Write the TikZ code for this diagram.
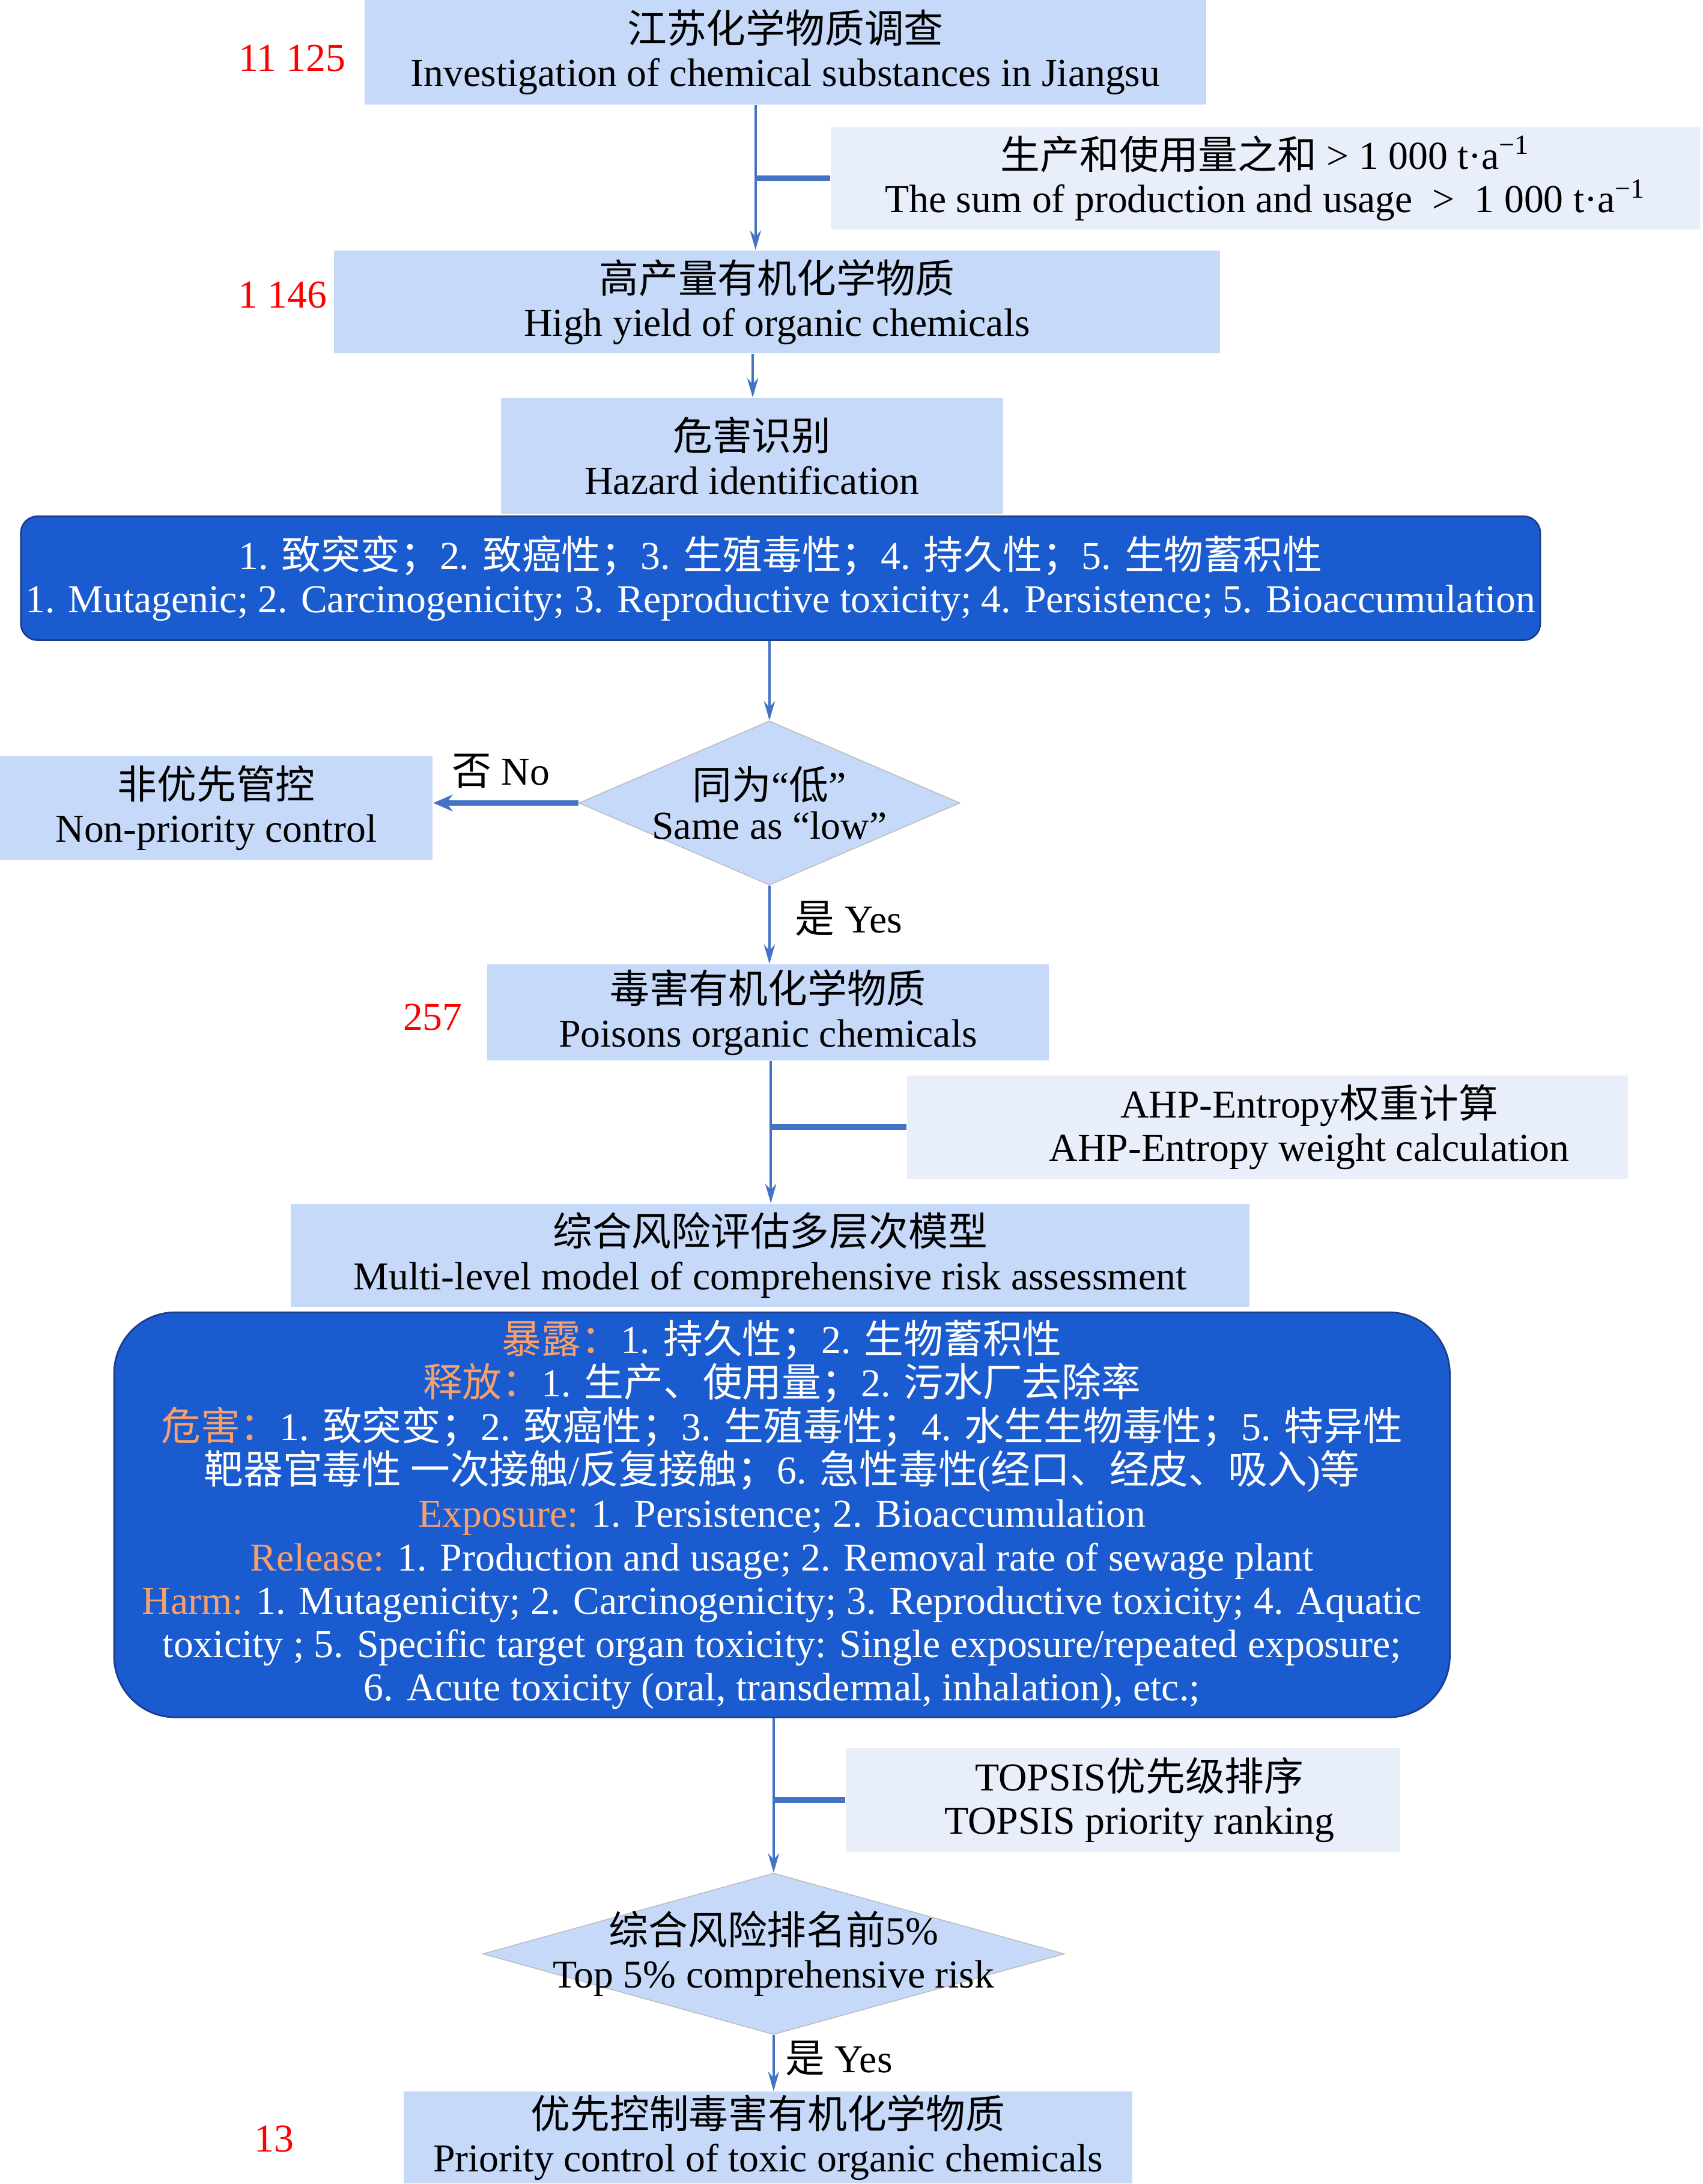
\documentclass[tikz,border=0pt]{standalone}
\usepackage{fontspec}
\setmainfont{Liberation Serif}
\newfontfamily\cjkf{Noto Sans CJK SC}
\newcommand{\zh}[1]{{\cjkf #1}}
\usetikzlibrary{shapes.geometric,arrows.meta}
\definecolor{boxfill}{HTML}{C6D9F8}
\definecolor{sidefill}{HTML}{E8EEFA}
\definecolor{darkfill}{HTML}{1A5BCF}
\definecolor{darkline}{HTML}{1E3C8C}
\definecolor{linec}{HTML}{4472C4}
\definecolor{orangec}{HTML}{F7A06C}
\definecolor{redc}{HTML}{FF0000}
\newcommand{\og}[1]{\textcolor{orangec}{#1}}
\begin{document}
\begin{tikzpicture}[x=0.5pt,y=-0.5pt,
  every node/.style={font=\fontsize{14.2}{15.6}\selectfont, align=center, inner sep=0pt},
  every label/.style={font=\fontsize{14.2}{15.6}\selectfont, align=center, inner sep=0pt},
  lbox/.style={rectangle, fill=boxfill},
  sbox/.style={rectangle, fill=sidefill},
  dbox/.style={rectangle, fill=darkfill, draw=darkline, line width=0.6pt, text=white},
  dmd/.style={diamond, fill=boxfill, draw=gray!55, line width=0.3pt},
  num/.style={text=redc},
  arr/.style={draw=linec, line width=0.8pt, -{Stealth[length=7pt,width=4pt]}},
  sidecon/.style={draw=linec, line width=2pt},
  noarr/.style={draw=linec, line width=2pt, -{Stealth[length=7pt,width=6pt]}}
]
\useasboundingbox (0,0) rectangle (1224,1569.4);

% spine coordinates
\coordinate (sp1) at (543,0);
\coordinate (sp2) at (541,0);
\coordinate (sp3) at (553,0);
\coordinate (sp4) at (554,0);
\coordinate (sp5) at (556,0);

% boxes
\node[lbox, minimum width=302.5pt, minimum height=37.5pt] (b1) at (564.5,37.5)
  {\zh{江苏化学物质调查}\\Investigation of chemical substances in Jiangsu};
\node[sbox, minimum width=312.5pt, minimum height=37pt] (s1) at (909.5,128)
  {\zh{生产和使用量之和} > 1~000 t·a\textsuperscript{−1}\\The sum of production and usage~~>~~1~000 t·a\textsuperscript{−1}};
\node[lbox, minimum width=318.5pt, minimum height=37pt] (b2) at (558.5,217)
  {\zh{高产量有机化学物质}\\High yield of organic chemicals};
\node[lbox, minimum width=180.5pt, minimum height=41.5pt] (b3) at (540.5,327.5)
  {\zh{危害识别}\\Hazard identification};
\node[dbox, rounded corners=6pt, minimum width=546pt, minimum height=44.5pt] (h) at (561,415.5)
  {1. \zh{致突变；}2. \zh{致癌性；}3. \zh{生殖毒性；}4. \zh{持久性；}5. \zh{生物蓄积性}\\
   1. Mutagenic; 2. Carcinogenicity; 3. Reproductive toxicity; 4. Persistence; 5. Bioaccumulation};
\node[dmd, minimum width=137pt, minimum height=59pt,
  label={[font=\fontsize{14.2}{14.2}\selectfont]center:\zh{同为}“\zh{低}”\\Same as “low”}] (d1) at (553,577) {};
\node[lbox, minimum width=155.5pt, minimum height=37.5pt] (np) at (155.5,580.5)
  {\zh{非优先管控}\\Non-priority control};
\node[lbox, minimum width=202pt, minimum height=34.5pt] (b4) at (552,727.5)
  {\zh{毒害有机化学物质}\\Poisons organic chemicals};
\node[sbox, minimum width=259pt, minimum height=37pt,
  label={[xshift=15pt]center:AHP-Entropy\zh{权重计算}\\AHP-Entropy weight calculation}] (s2) at (911,810) {};
\node[lbox, minimum width=344.5pt, minimum height=37pt] (b5) at (553.5,902)
  {\zh{综合风险评估多层次模型}\\Multi-level model of comprehensive risk assessment};
\node[dbox, rounded corners=22pt, minimum width=480pt, minimum height=145.5pt] (big) at (562,1088.5)
  {\og{\zh{暴露：}}1. \zh{持久性；}2. \zh{生物蓄积性}\\
   \og{\zh{释放：}}1. \zh{生产、使用量；}2. \zh{污水厂去除率}\\
   \og{\zh{危害：}}1. \zh{致突变；}2. \zh{致癌性；}3. \zh{生殖毒性；}4. \zh{水生生物毒性；}5. \zh{特异性}\\
   \zh{靶器官毒性 一次接触}/\zh{反复接触；}6. \zh{急性毒性}(\zh{经口、经皮、吸入})\zh{等}\\
   \og{Exposure:} 1. Persistence; 2. Bioaccumulation\\
   \og{Release:} 1. Production and usage; 2. Removal rate of sewage plant\\
   \og{Harm:} 1. Mutagenicity; 2. Carcinogenicity; 3. Reproductive toxicity; 4. Aquatic\\
   toxicity ; 5. Specific target organ toxicity: Single exposure/repeated exposure;\\
   6. Acute toxicity (oral, transdermal, inhalation), etc.;};
\node[sbox, minimum width=199pt, minimum height=37.5pt,
  label={[xshift=6pt]center:TOPSIS\zh{优先级排序}\\TOPSIS priority ranking}] (s3) at (807,1293.5) {};
\node[dmd, minimum width=209pt, minimum height=58pt,
  label={center:\zh{综合风险排名前}5\%\\Top 5\% comprehensive risk}] (d2) at (556,1404) {};
\node[lbox, minimum width=262pt, minimum height=33pt] (b6) at (552,1536)
  {\zh{优先控制毒害有机化学物质}\\Priority control of toxic organic chemicals};

% red numbers
\node[num] (n1) at (210,42) {11~125};
\node[num] (n2) at (203,212) {1~146};
\node[num] (n3) at (311,731) {257};
\node[num] (n4) at (197,1537) {13};

% labels
\node (lno) at (360,554) {\zh{否} No};
\node (lyes1) at (610,660) {\zh{是} Yes};
\node (lyes2) at (603,1479) {\zh{是} Yes};

% connectors
\draw[arr] (b1.south -| sp1) -- (b2.north -| sp1);
\draw[sidecon] (s1.west) -- (s1.west -| sp1);
\draw[arr] (b2.south -| sp2) -- (b3.north -| sp2);
\draw[arr] (h.south -| sp3) -- (d1.north);
\draw[noarr] (d1.west) -- (d1.west -| np.east);
\draw[arr] (d1.south) -- (b4.north -| sp3);
\draw[arr] (b4.south -| sp4) -- (b5.north -| sp4);
\draw[sidecon] (s2.west) -- (s2.west -| sp4);
\draw[arr] (big.south -| sp5) -- (d2.north);
\draw[sidecon] (s3.west) -- (s3.west -| sp5);
\draw[arr] (d2.south) -- (b6.north -| sp5);
\end{tikzpicture}
\end{document}
